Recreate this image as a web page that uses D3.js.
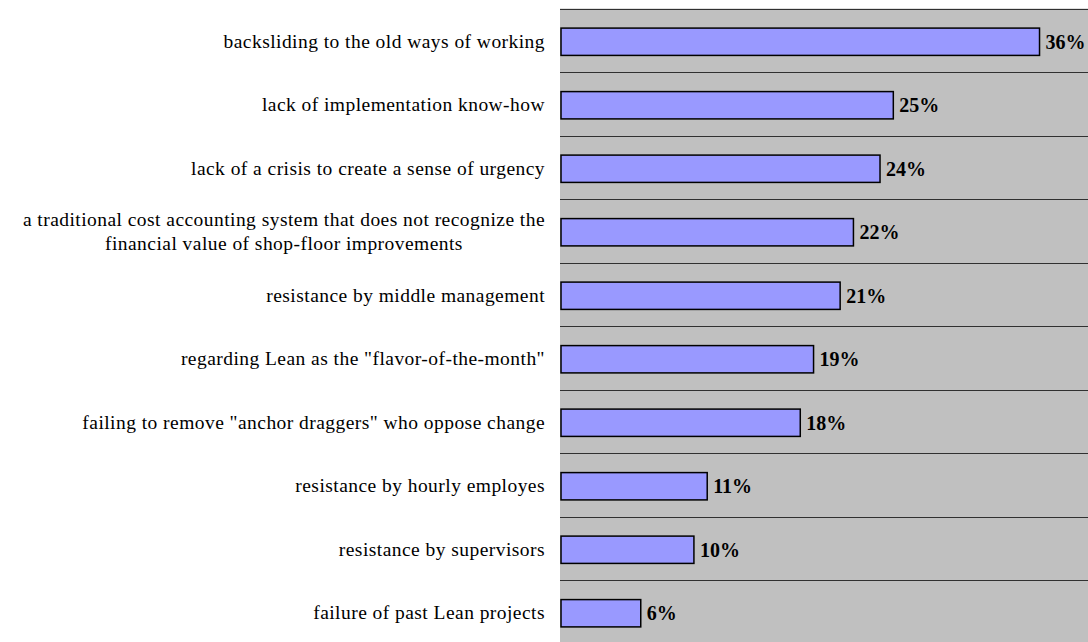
<!DOCTYPE html>
<html>
<head>
<meta charset="utf-8">
<script src="https://cdn.jsdelivr.net/npm/d3@7"></script>
<style>
  body { margin: 0; background: #fff; }
  svg { display: block; }
  text { font-family: "Liberation Serif", "Times New Roman", serif; fill: #000; }
</style>
</head>
<body>
<svg width="1088" height="642"></svg>
<script>
const width = 1088;
const height = 642;

// Obstacles, top to bottom (share of respondents)
const categories = [
    ['backsliding to the old ways of working'],
    ['lack of implementation know-how'],
    ['lack of a crisis to create a sense of urgency'],
    ['a traditional cost accounting system that does not recognize the', 'financial value of shop-floor improvements'],
    ['resistance by middle management'],
    ['regarding Lean as the "flavor-of-the-month"'],
    ['failing to remove "anchor draggers" who oppose change'],
    ['resistance by hourly employes'],
    ['resistance by supervisors'],
    ['failure of past Lean projects']
];
const values = [0.36, 0.25, 0.24, 0.22, 0.21, 0.19, 0.18, 0.11, 0.10, 0.06];
const xDomain = [0, 0.4];

const plot = { left: 561, top: 8.5, bottom: 643.5 };

const svg = d3.select('svg');

const xScale = d3.scaleLinear()
    .domain(xDomain)
    .range([plot.left, 1092.7]);

const yScale = d3.scaleBand()
    .domain(d3.range(categories.length))
    .range([plot.top, plot.bottom])
    .padding(0);

const barH = yScale.bandwidth() * 0.43;

// Plot background
svg.append('rect')
    .attr('x', plot.left - 1)
    .attr('y', plot.top)
    .attr('width', width - plot.left + 1)
    .attr('height', plot.bottom - plot.top)
    .attr('fill', '#c0c0c0');

// Separator lines between categories
svg.append('g')
    .selectAll('line')
    .data(d3.range(categories.length))
    .join('line')
    .attr('x1', plot.left - 1)
    .attr('x2', width)
    .attr('y1', d => Math.round(yScale(d)) + 0.5)
    .attr('y2', d => Math.round(yScale(d)) + 0.5)
    .attr('stroke', '#303030')
    .attr('stroke-width', 1);

// Bars
svg.append('g')
    .selectAll('rect')
    .data(values)
    .join('rect')
    .attr('x', xScale(0))
    .attr('y', (d, i) => yScale(i) + (yScale.bandwidth() - barH) / 2 + 1.5)
    .attr('width', d => xScale(d) - xScale(0))
    .attr('height', barH)
    .attr('fill', '#9999ff')
    .attr('stroke', '#000')
    .attr('stroke-width', 1.5);

// Value labels
svg.append('g')
    .selectAll('text')
    .data(values)
    .join('text')
    .attr('x', d => xScale(d) + 6)
    .attr('y', (d, i) => yScale(i) + yScale.bandwidth() / 2 + 1.5)
    .attr('dy', '0.35em')
    .attr('font-size', 20)
    .attr('font-weight', 'bold')
    .text(d => d3.format('.0%')(d));

// Category labels
const lineH = 24;
const labelX = 545;
const labels = svg.append('g')
    .selectAll('text')
    .data(categories)
    .join('text')
    .attr('text-anchor', 'end')
    .attr('font-size', 19.5)
    .attr('letter-spacing', 0.45)
    .attr('y', (d, i) => yScale(i) + yScale.bandwidth() / 2 + 0.5 - (d.length - 1) * lineH / 2);

labels.selectAll('tspan')
    .data(d => d)
    .join('tspan')
    .attr('x', labelX)
    .attr('dy', (d, i) => i === 0 ? '0.35em' : lineH)
    .text(d => d);

// Second line of a wrapped label is centred under the first
labels.each(function() {
    const spans = d3.select(this).selectAll('tspan').nodes();
    if (spans.length > 1) {
        const w0 = spans[0].getComputedTextLength();
        const w1 = spans[1].getComputedTextLength();
        d3.select(spans[1]).attr('x', labelX - (w0 - w1) / 2);
    }
});
</script>
</body>
</html>
